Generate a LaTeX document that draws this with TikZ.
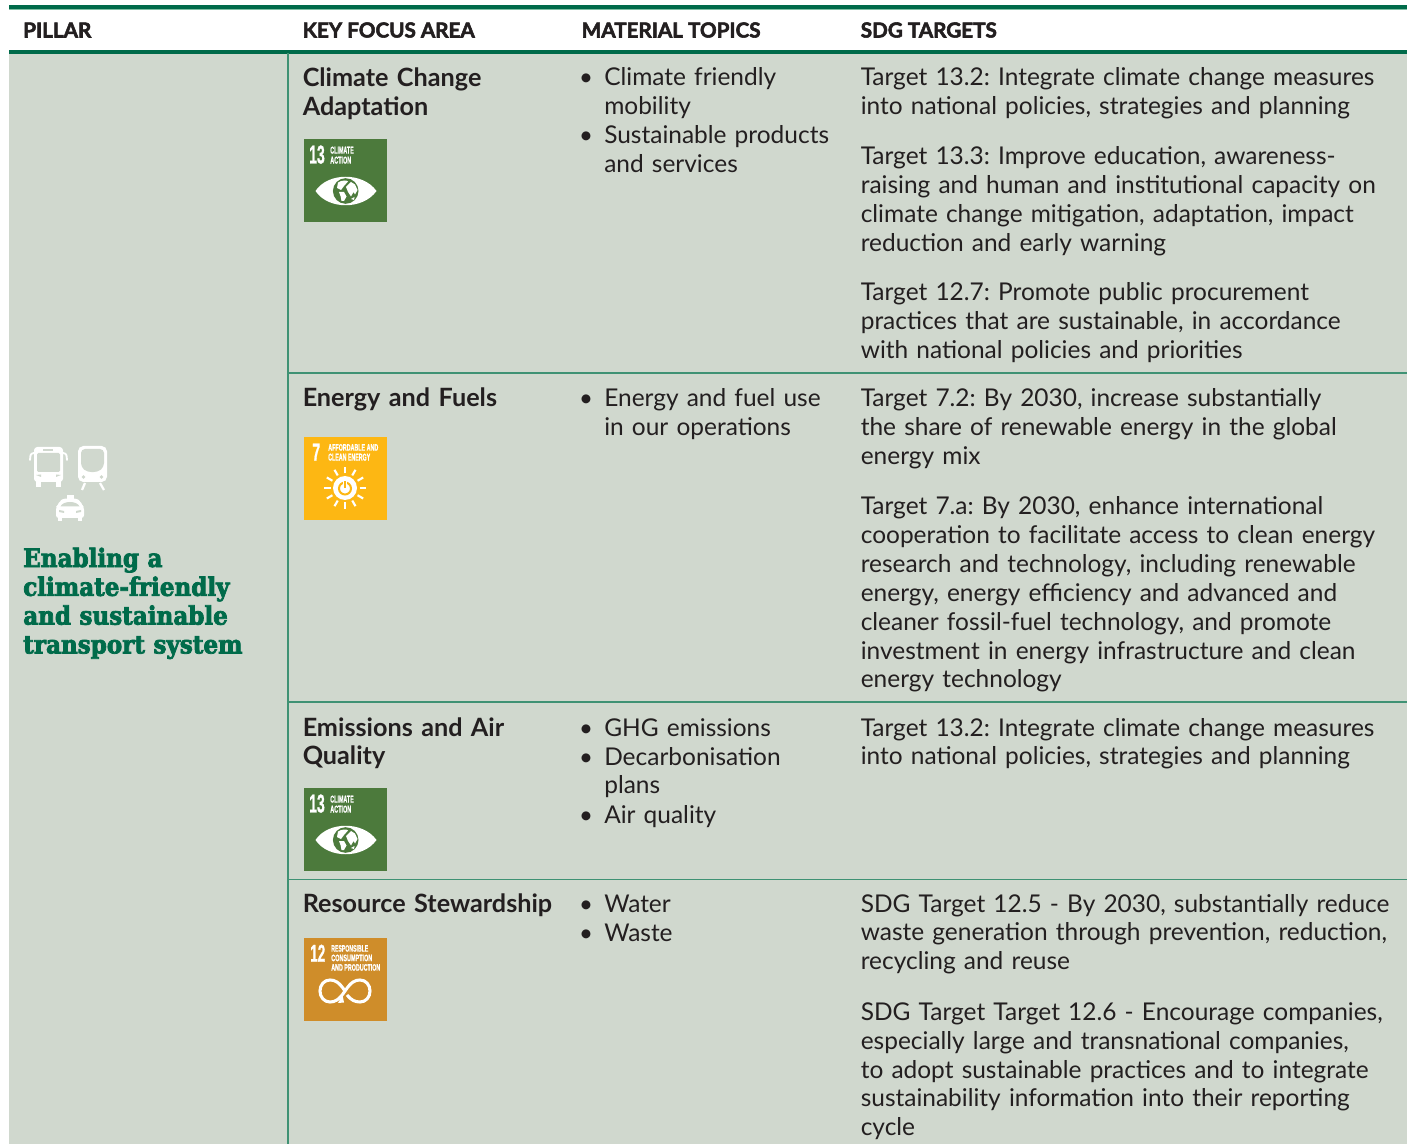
\documentclass[tikz,border=0pt]{standalone}
\usepackage{fontspec}
\usepackage{graphicx}
\usetikzlibrary{calc}
\setmainfont{Lato}
\newfontfamily\hvfont{Lato}[UprightFont=* Bold,UprightFeatures={FakeBold=2.6}]
\newfontfamily\slabfont{DejaVu Serif}[UprightFont=* Bold,UprightFeatures={FakeBold=3},FakeStretch=0.91]
\newfontfamily\iconfont{Liberation Sans}[UprightFont=* Bold,UprightFeatures={FakeBold=1.2}]
\definecolor{bgcell}{HTML}{D0D8CE}
\definecolor{darkgr}{HTML}{006B4A}
\definecolor{midgr}{HTML}{3F9274}
\definecolor{lightgr}{HTML}{7FBFA3}
\definecolor{ink}{HTML}{231F20}
\definecolor{sdggreen}{HTML}{4C7A3C}
\definecolor{sdgyellow}{HTML}{FDB713}
\definecolor{sdgorange}{HTML}{CF8D2A}
\newcommand{\icontext}[5]{\node[anchor=south west,inner sep=0pt,text=white] at (#1,#2) {\resizebox{\dimexpr #3pt*3/4\relax}{\dimexpr #4pt*3/4\relax}{\iconfont #5}};}
\newcommand{\climateicon}[1]{%
 \begin{scope}[shift={(0,#1)}]
  \fill[sdggreen] (304,0) rectangle (387,83);
  \icontext{309}{25}{15.5}{18}{13}
  \icontext{330}{15}{23.5}{7}{CLIMATE}
  \icontext{330}{25}{21}{7}{ACTION}
  \fill[white] (315.5,52) .. controls (328,33) and (363,33) .. (376.5,52) .. controls (363,71) and (328,71) .. cycle;
  \fill[sdggreen] (345.7,52) circle (12.8);
  \fill[white] (338,43.5) .. controls (342,41) and (347,41) .. (348,42.5) -- (344,47) -- (341,51) -- (337,49) -- cycle;
  \fill[white] (339,53) -- (344,53) -- (346.5,57.5) -- (344,62) -- (341.5,62) -- (340.5,57) -- cycle;
  \fill[white] (346,48) -- (351,43) -- (355,45.5) -- (357.5,51) -- (355,55.5) -- (353.5,53) -- (351,57.5) -- (348,53) -- cycle;
  \fill[white] (351,60) -- (354.5,58) -- (354,61) -- cycle;
 \end{scope}}
\begin{document}
\frenchspacing
\begin{tikzpicture}[x=0.75pt,y=-0.75pt,
  cellbg/.style={fill=bgcell,draw=none},
  headrule/.style={darkgr,line width=3pt},
  rowrule/.style={midgr,line width=0.8pt},
  colrule/.style={midgr,line width=1.2pt},
  headtxt/.style={anchor=base west,inner sep=0pt,text=ink,font=\hvfont\fontsize{15.5}{18}\selectfont},
  focustxt/.style={anchor=base west,inner sep=0pt,text=ink,font=\bfseries\fontsize{18.9}{21.6}\selectfont,text width=220pt,align=left},
  bodytxt/.style={anchor=base west,inner sep=0pt,text=ink,font=\fontsize{18.35}{21.6}\selectfont,text width=400pt,align=left},
  bullet/.style={anchor=base,inner sep=0pt,text=ink,font=\fontsize{18}{21.6}\selectfont},
  pillartxt/.style={anchor=base west,inner sep=0pt,text=darkgr,font=\slabfont\fontsize{19}{21.6}\selectfont,text width=230pt,align=left}]
\useasboundingbox (0,0) rectangle (1410,1144);
\fill[white] (0,0) rectangle (1410,1144);
\fill[cellbg] (9,52) rectangle (1407,1144);
% header rules
\draw[lightgr,line width=0.8pt] (9,9.5) -- (1407,9.5);
\draw[headrule] (9,7) -- (1407,7);
\draw[headrule] (9,51.7) -- (1407,51.7);
% grid
\draw[colrule] (288,53) -- (288,1144);
\draw[rowrule] (288,373) -- (1407,373);
\draw[rowrule] (288,702) -- (1407,702);
\draw[rowrule] (288,879.5) -- (1407,879.5);
% header
\node[headtxt] (h1) at (23,37.5) {PILLAR};
\node[headtxt] (h2) at (302.5,37.5) {KEY FOCUS AREA};
\node[headtxt] (h3) at (581.5,37.5) {MATERIAL TOPICS};
\node[headtxt] (h4) at (860.5,37.5) {SDG TARGETS};
% pillar
\node[pillartxt] (pillar) at (23,567) {Enabling a\\climate-friendly\\and sustainable\\transport system};
% focus
\node[focustxt] (f1) at (302.5,86.5) {Climate Change\\Adaptation};
\node[focustxt] (f2) at (302.5,407) {Energy and Fuels};
\node[focustxt] (f3) at (302.5,736) {Emissions and Air\\Quality};
\node[focustxt] (f4) at (302.5,912) {Resource Stewardship};
% topics
\foreach \n/\y in {a/86,b/144,c/407,d/736,e/765,f/823,g/912,h/941}{\node[bullet] (bul\n) at (586,\y) {•};}
\node[bodytxt] (t1) at (604,86) {Climate friendly\\mobility};
\node[bodytxt] (t2) at (604,144) {Sustainable products\\and services};
\node[bodytxt] (t3) at (604,407) {Energy and fuel use\\in our operations};
\node[bodytxt] (t4) at (604,736) {GHG emissions};
\node[bodytxt] (t5) at (604,765) {Decarbonisation\\plans};
\node[bodytxt] (t6) at (604,823) {Air quality};
\node[bodytxt] (t7) at (604,912) {Water};
\node[bodytxt] (t8) at (604,941) {Waste};
% targets
\node[bodytxt] (s1) at (860.5,86) {Target 13.2: Integrate climate change measures\\into national policies, strategies and planning};
\node[bodytxt] (s2) at (860.5,165) {Target 13.3: Improve education, awareness-\\raising and human and institutional capacity on\\climate change mitigation, adaptation, impact\\reduction and early warning};
\node[bodytxt] (s3) at (860.5,301) {Target 12.7: Promote public procurement\\practices that are sustainable, in accordance\\with national policies and priorities};
\node[bodytxt] (s4) at (860.5,407) {Target 7.2: By 2030, increase substantially\\the share of renewable energy in the global\\energy mix};
\node[bodytxt] (s5) at (860.5,515) {Target 7.a: By 2030, enhance international\\cooperation to facilitate access to clean energy\\research and technology, including renewable\\energy, energy efficiency and advanced and\\cleaner fossil-fuel technology, and promote\\investment in energy infrastructure and clean\\energy technology};
\node[bodytxt] (s6) at (860.5,736) {Target 13.2: Integrate climate change measures\\into national policies, strategies and planning};
\node[bodytxt] (s7) at (860.5,912) {SDG Target 12.5 - By 2030, substantially reduce\\waste generation through prevention, reduction,\\recycling and reuse};
\node[bodytxt] (s8) at (860.5,1020.5) {SDG Target Target 12.6 - Encourage companies,\\especially large and transnational companies,\\to adopt sustainable practices and to integrate\\sustainability information into their reporting\\cycle};
% icons
\climateicon{139}
\climateicon{788}
% SDG 7
\fill[sdgyellow] (304,437) rectangle (387,520);
\icontext{312}{461}{8}{17}{7}
\icontext{328}{451}{50}{6.5}{AFFORDABLE AND}
\icontext{328}{461}{42}{7}{CLEAN ENERGY}
\fill[white] (345,488) circle (12);
\foreach \a in {0,30,...,330}{\draw[white,line width=1.6pt] ($(345,488)+(\a:14.5)$) -- ($(345,488)+(\a:21)$);}
\draw[sdgyellow,line width=1.5pt] (345,488.5) circle (6);
\draw[white,line width=2.6pt] (345,480) -- (345,489);
\draw[sdgyellow,line width=1.5pt] (345,481) -- (345,488);
% SDG 12
\fill[sdgorange] (304,938) rectangle (387,1021);
\icontext{310}{962}{15}{17}{12}
\icontext{331}{952}{37}{6.5}{RESPONSIBLE}
\icontext{331}{961.5}{41}{6.5}{CONSUMPTION}
\icontext{331}{971}{49}{6.5}{AND PRODUCTION}
\draw[white,line width=2.3pt] (345,991) .. controls (339,982) and (335,980) .. (330,980) .. controls (324,980) and (320,985) .. (320,991) .. controls (320,997) and (324,1002) .. (330,1002) .. controls (335,1002) and (339,1000) .. (345,991) .. controls (351,982) and (355,980) .. (360,980) .. controls (366,980) and (370,985) .. (370,991) .. controls (370,997) and (366,1002) .. (360,1002) .. controls (355,1002) and (351,1000) .. (347,995);
\fill[white] (338,1003) -- (342.5,995) -- (344,1002.5) -- cycle;
% vehicles
\fill[white,rounded corners=2.5pt] (34,447) rectangle (63,482);
\draw[white,line width=1.4pt,line cap=round] (34,453) .. controls (30,453) and (30,457) .. (30,460);
\draw[white,line width=1.4pt,line cap=round] (63,453) .. controls (67,453) and (67,457) .. (67,460);
\fill[white] (36,481) rectangle (41,487);
\fill[white] (56,481) rectangle (61,487);
\fill[bgcell] (43,449) rectangle (53,451);
\fill[bgcell,rounded corners=1pt] (37,453) rectangle (60,472);
\fill[bgcell] (36,475) -- (41,474.5) -- (41,477) -- cycle;
\fill[bgcell] (61,475) -- (56,474.5) -- (56,477) -- cycle;
\fill[white,rounded corners=4pt] (78,446) rectangle (107,482);
\fill[bgcell,rounded corners=3pt] (81,449) -- (104,449) -- (104,467) .. controls (97,473) and (88,473) .. (81,467) -- cycle;
\fill[bgcell] (83.5,477) circle (1.8);
\fill[bgcell] (101.5,477) circle (1.8);
\draw[white,line width=1.7pt] (85,483) -- (82,490);
\draw[white,line width=1.7pt] (100,483) -- (104,490);
\fill[white,rounded corners=2pt] (58,505) .. controls (60,500) and (63,498.5) .. (70,498.5) .. controls (77,498.5) and (80,500) .. (82,505) -- (84,507) -- (84,518) -- (56,518) -- (56,507) -- cycle;
\fill[white] (66.5,495.5) rectangle (74,499);
\fill[white] (58,517) rectangle (62,521);
\fill[white] (78,517) rectangle (82,521);
\fill[bgcell] (60.5,506.5) .. controls (63,500.5) and (77,500.5) .. (79.5,506.5) -- cycle;
\fill[bgcell] (59,510) -- (64,511) -- (64,513) -- (59,512) -- cycle;
\fill[bgcell] (81,510) -- (76,511) -- (76,513) -- (81,512) -- cycle;
\end{tikzpicture}
\end{document}
